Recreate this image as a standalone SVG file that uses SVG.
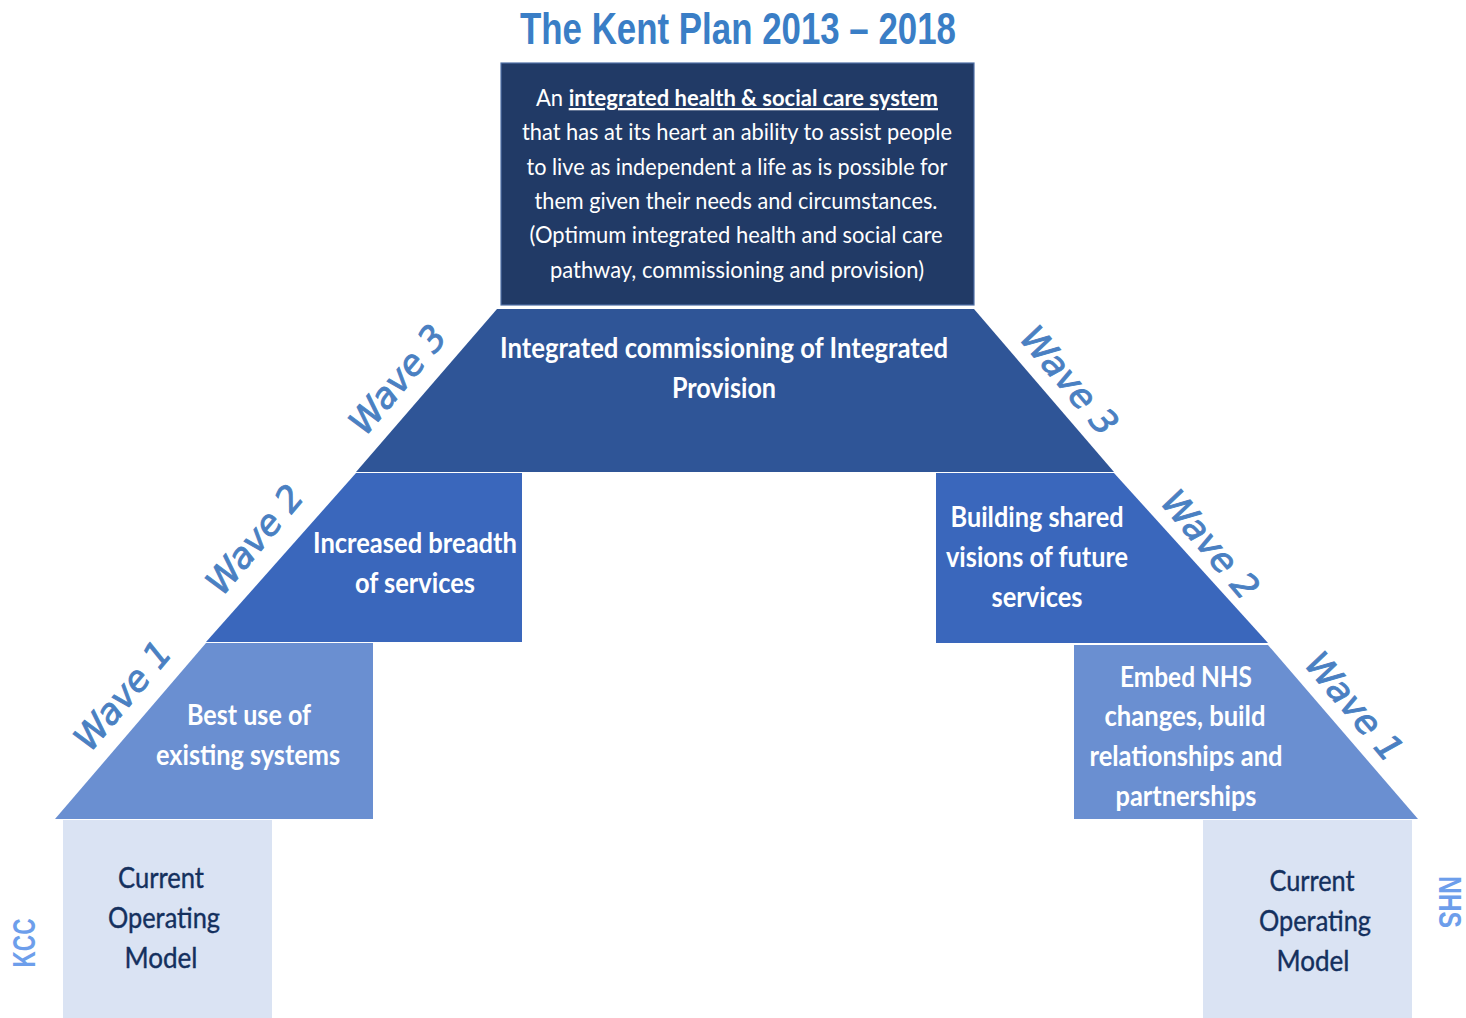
<svg xmlns="http://www.w3.org/2000/svg" width="1466" height="1018" viewBox="0 0 1466 1018">
  <style>
    .body { font-family: Lato, "Open Sans", "Liberation Sans", sans-serif; fill: #ffffff; }
    .stepTxt { font-family: Lato, "Open Sans", "Liberation Sans", sans-serif; font-weight: 700; font-size: 29px; fill: #ffffff; text-anchor: middle; }
    .comTxt { font-family: Lato, "Open Sans", "Liberation Sans", sans-serif; font-weight: 400; font-size: 29px; fill: #14305e; stroke: #14305e; stroke-width: 0.4px; text-anchor: middle; }
    .wave { font-family: "DejaVu Sans", Verdana, sans-serif; font-style: oblique; font-size: 35px; fill: #4a80c2; stroke: #4a80c2; stroke-width: 0.9px; text-anchor: middle; }
    .org { font-family: "Liberation Sans", Arial, sans-serif; font-weight: 700; font-size: 31px; fill: #6d9eeb; text-anchor: middle; }
  </style>

  <rect width="1466" height="1018" fill="#ffffff"/>

  <!-- heading -->
  <text id="title" x="738" y="44" font-family="'Liberation Sans', Arial, sans-serif" font-weight="700" font-size="44" fill="#3a7ec6" text-anchor="middle" textLength="436" lengthAdjust="spacingAndGlyphs">The Kent Plan 2013 – 2018</text>

  <!-- vision box -->
  <g id="vision">
    <rect x="501" y="63" width="473" height="242" fill="#213a66" stroke="#4f6fa6" stroke-width="1.2"/>
    <g class="body" font-size="23" text-anchor="middle">
      <text x="737" y="106" textLength="402" lengthAdjust="spacingAndGlyphs">An <tspan font-weight="700" text-decoration="underline">integrated health &amp; social care system</tspan></text>
      <text x="737" y="140" textLength="430" lengthAdjust="spacingAndGlyphs">that has at its heart an ability to assist people</text>
      <text x="737" y="175" textLength="421" lengthAdjust="spacingAndGlyphs">to live as independent a life as is possible for</text>
      <text x="736" y="209" textLength="403" lengthAdjust="spacingAndGlyphs">them given their needs and circumstances.</text>
      <text x="736" y="243" textLength="413" lengthAdjust="spacingAndGlyphs">(Optimum integrated health and social care</text>
      <text x="737" y="278" textLength="374" lengthAdjust="spacingAndGlyphs">pathway, commissioning and provision)</text>
    </g>
  </g>

  <!-- wave 3: shared top tier -->
  <g id="wave3-commissioning">
    <polygon points="497,309 974,309 1114,472 356,472" fill="#2f5597"/>
    <text class="stepTxt" x="724" y="358" textLength="448" lengthAdjust="spacingAndGlyphs">Integrated commissioning of Integrated</text>
    <text class="stepTxt" x="724" y="398" textLength="104" lengthAdjust="spacingAndGlyphs">Provision</text>
  </g>

  <!-- wave 2 tiers -->
  <g id="kcc-wave2">
    <polygon points="356,473 522,473 522,642 206,642" fill="#3a67bc"/>
    <text class="stepTxt" x="415" y="553" textLength="204" lengthAdjust="spacingAndGlyphs">Increased breadth</text>
    <text class="stepTxt" x="415" y="593" textLength="120" lengthAdjust="spacingAndGlyphs">of services</text>
  </g>
  <g id="nhs-wave2">
    <polygon points="936,473 1114,473 1268,643 936,643" fill="#3a67bc"/>
    <text class="stepTxt" x="1037" y="527" textLength="173" lengthAdjust="spacingAndGlyphs">Building shared</text>
    <text class="stepTxt" x="1037" y="567" textLength="182" lengthAdjust="spacingAndGlyphs">visions of future</text>
    <text class="stepTxt" x="1037" y="607" textLength="91" lengthAdjust="spacingAndGlyphs">services</text>
  </g>

  <!-- wave 1 tiers -->
  <g id="kcc-wave1">
    <polygon points="206,643 373,643 373,819 55,819" fill="#6a8fd1"/>
    <text class="stepTxt" x="249" y="725" textLength="124" lengthAdjust="spacingAndGlyphs">Best use of</text>
    <text class="stepTxt" x="248" y="765" textLength="184" lengthAdjust="spacingAndGlyphs">existing systems</text>
  </g>
  <g id="nhs-wave1">
    <polygon points="1074,645 1268,645 1418,819 1074,819" fill="#6a8fd1"/>
    <text class="stepTxt" x="1186" y="687" textLength="132" lengthAdjust="spacingAndGlyphs">Embed NHS</text>
    <text class="stepTxt" x="1185" y="726" textLength="161" lengthAdjust="spacingAndGlyphs">changes, build</text>
    <text class="stepTxt" x="1186" y="766" textLength="193" lengthAdjust="spacingAndGlyphs">relationships and</text>
    <text class="stepTxt" x="1186" y="806" textLength="141" lengthAdjust="spacingAndGlyphs">partnerships</text>
  </g>

  <!-- current operating models at the base -->
  <g id="kcc-current">
    <rect x="63" y="820" width="209" height="198" fill="#dae3f3"/>
    <text class="comTxt" x="161" y="888" textLength="86" lengthAdjust="spacingAndGlyphs">Current</text>
    <text class="comTxt" x="164" y="928" textLength="112" lengthAdjust="spacingAndGlyphs">Operating</text>
    <text class="comTxt" x="161" y="968" textLength="73" lengthAdjust="spacingAndGlyphs">Model</text>
  </g>
  <g id="nhs-current">
    <rect x="1203" y="820" width="209" height="198" fill="#dae3f3"/>
    <text class="comTxt" x="1312" y="891" textLength="85" lengthAdjust="spacingAndGlyphs">Current</text>
    <text class="comTxt" x="1315" y="931" textLength="112" lengthAdjust="spacingAndGlyphs">Operating</text>
    <text class="comTxt" x="1313" y="971" textLength="73" lengthAdjust="spacingAndGlyphs">Model</text>
  </g>

  <!-- wave labels along the slopes -->
  <g id="wave-labels">
    <text class="wave" transform="translate(397,379) rotate(-50)" y="13">Wave 3</text>
    <text class="wave" transform="translate(254,539) rotate(-50)" y="13">Wave 2</text>
    <text class="wave" transform="translate(122,695) rotate(-50)" y="13">Wave 1</text>
    <text class="wave" transform="translate(1070,380) rotate(50)" y="13">Wave 3</text>
    <text class="wave" transform="translate(1211,544) rotate(50)" y="13">Wave 2</text>
    <text class="wave" transform="translate(1355,706) rotate(50)" y="13">Wave 1</text>
  </g>

  <!-- organisation labels -->
  <g id="org-labels">
    <text class="org" transform="translate(24,943) rotate(-90)" y="11" textLength="49" lengthAdjust="spacingAndGlyphs">KCC</text>
    <text class="org" transform="translate(1450,902) rotate(90)" y="11" textLength="52" lengthAdjust="spacingAndGlyphs">NHS</text>
  </g>
</svg>
